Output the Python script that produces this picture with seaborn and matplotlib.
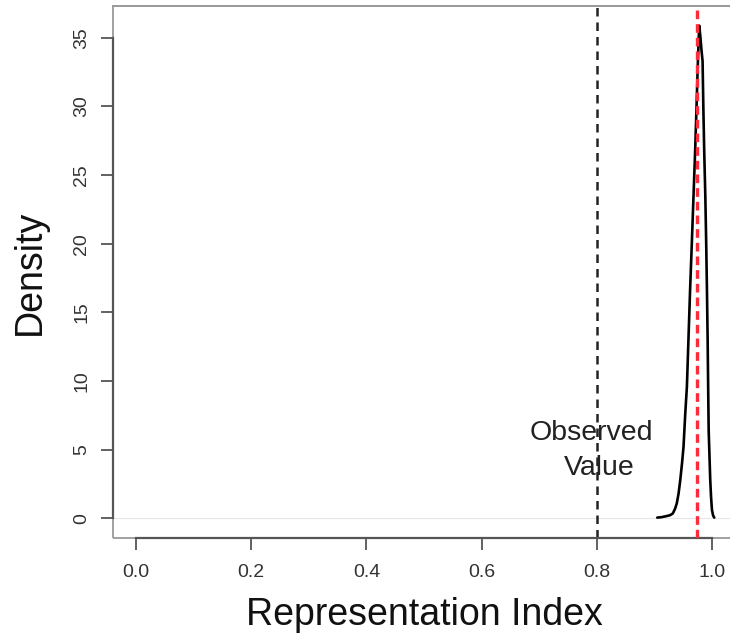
import numpy as np
import pandas as pd
import matplotlib
matplotlib.use("Agg")
import matplotlib.pyplot as plt
import seaborn as sns
from matplotlib.patches import Rectangle

# density curve of the simulated index
curve_x = [0.905, 0.912, 0.920, 0.927, 0.932, 0.936, 0.939, 0.942, 0.945, 0.948,
           0.9506, 0.9536, 0.9565, 0.959, 0.962, 0.965, 0.968, 0.971, 0.973, 0.975,
           0.977, 0.978, 0.980, 0.982, 0.9837, 0.985, 0.9865, 0.9885, 0.990, 0.9913,
           0.9925, 0.9934, 0.9943, 0.9958, 0.997, 0.9985, 1.000, 1.002, 1.004]
curve_y = [0.05, 0.08, 0.15, 0.22, 0.35, 0.7, 1.1, 1.8, 2.8, 4.0,
           5.2, 7.6, 9.6, 12.8, 16.6, 20.0, 23.5, 27.0, 29.7, 32.5,
           35.0, 35.87, 35.0, 34.0, 33.3, 30.0, 26.8, 23.4, 20.0, 16.6,
           13.0, 9.5, 6.4, 4.4, 2.8, 1.5, 0.6, 0.2, 0.05]

observed_value = 0.8
mean_value = 0.974

x_ticks = [0.0, 0.2, 0.4, 0.6, 0.8, 1.0]
x_labels = ["0.0", "0.2", "0.4", "0.6", "0.8", "1.0"]
y_ticks = [0, 5, 10, 15, 20, 25, 30, 35]

sns.set_style("white")
plt.rcParams["font.family"] = ["Liberation Sans", "DejaVu Sans"]

df = pd.DataFrame({"x": curve_x, "y": curve_y})

fig = plt.figure(figsize=(7.3, 6.35), dpi=100)
ax = fig.add_axes([113 / 730, 97 / 635, 622 / 730, 532 / 635])

ymax = max(curve_y)
ax.set_xlim(-0.04, 1.04)
ax.set_ylim(-0.04 * ymax, 1.04 * ymax)

ax.axhline(0, color="#e6e6e6", lw=0.8, zorder=1)
sns.lineplot(data=df, x="x", y="y", color="black", lw=1.9, estimator=None, ax=ax, zorder=3)
ax.axvline(observed_value, color="#222222", lw=1.8, ls=(0, (3.4, 2.4)), zorder=2)
ax.axvline(mean_value, color="#ff2a3a", lw=2.4, ls=(0, (2.6, 1.5)), zorder=4)

ax.text(0.790, 6.2, "Observed", ha="center", va="center", fontsize=20.5, color="#222222")
ax.text(0.804, 3.64, "Value", ha="center", va="center", fontsize=20.5, color="#222222")

# R-like box in light grey, darker axis lines only over the tick range
for s in ax.spines.values():
    s.set_color("#9a9a9a")
    s.set_linewidth(1.3)
ax.spines["right"].set_visible(False)
ax.spines["left"].set_bounds(y_ticks[0], y_ticks[-1])
ax.spines["bottom"].set_bounds(x_ticks[0], x_ticks[-1])
ax.spines["left"].set_color("#555555")
ax.spines["bottom"].set_color("#555555")
ax.spines["left"].set_linewidth(1.6)
ax.spines["bottom"].set_linewidth(1.6)
ax.add_patch(Rectangle((0, 0), 1.0, 1.0, transform=ax.transAxes, fill=False,
                       edgecolor="#9a9a9a", lw=1.3, clip_on=False, zorder=0.5))

ax.set_xticks(x_ticks)
ax.set_xticklabels(x_labels)
ax.set_yticks(y_ticks)
ax.set_yticklabels([str(v) for v in y_ticks], rotation=90, va="center")
ax.tick_params(axis="both", direction="out", length=8.5, width=1.3, color="#555555",
               labelsize=14, labelcolor="#333333", left=True, bottom=True)
ax.tick_params(axis="x", pad=10)
ax.tick_params(axis="y", pad=8)

ax.set_xlabel("Representation Index", fontsize=27, color="#111111", labelpad=12)
ax.set_ylabel("Density", fontsize=27, color="#111111", labelpad=18)

fig.savefig("out.png", dpi=100)
